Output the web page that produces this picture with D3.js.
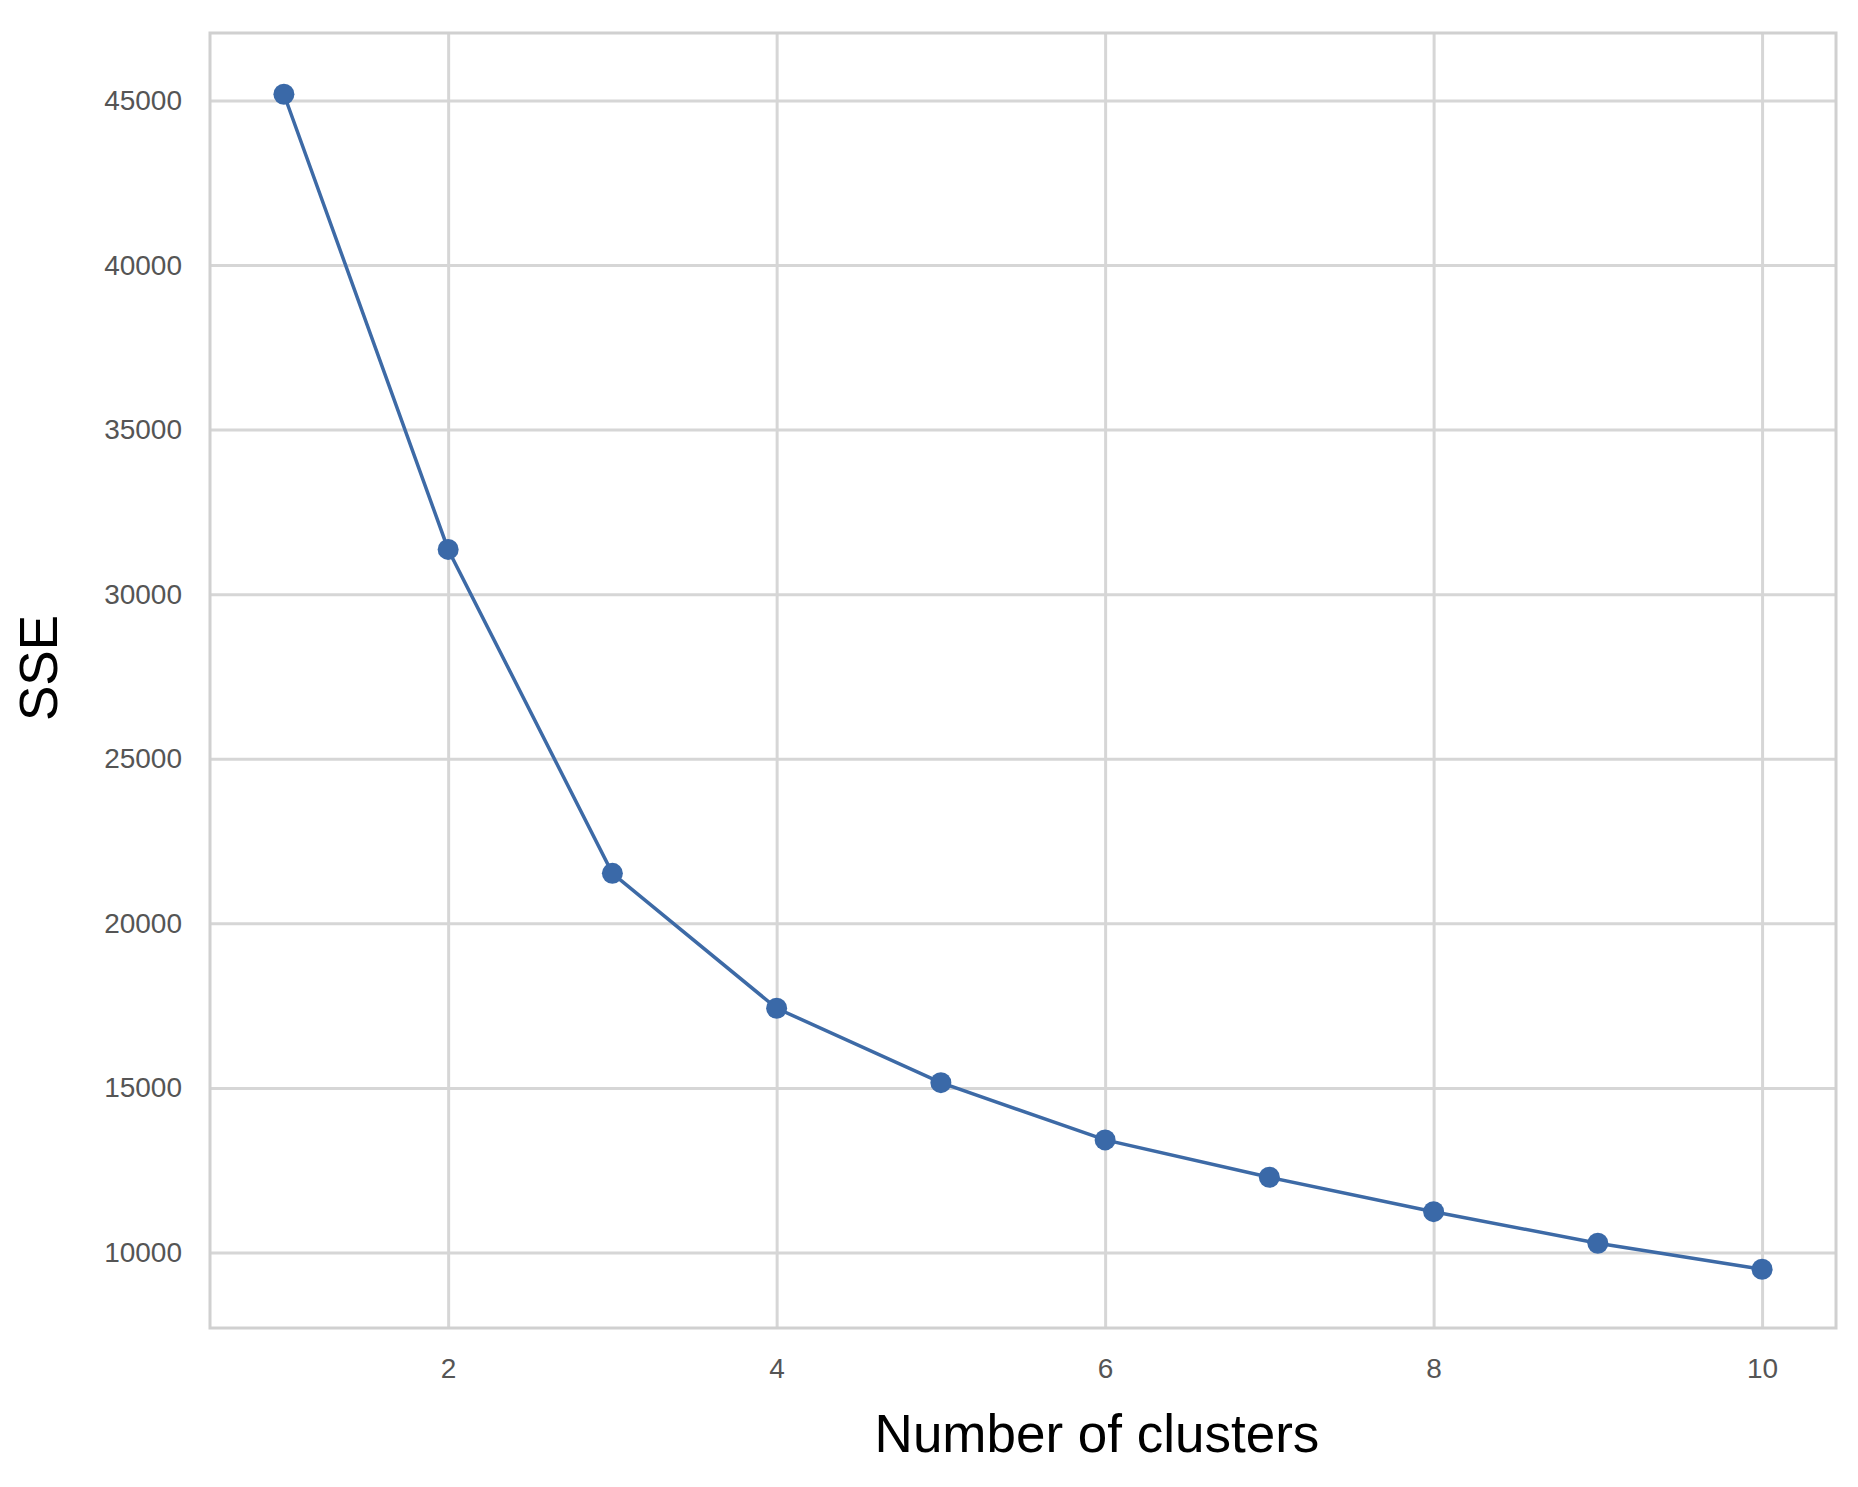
<!DOCTYPE html>
<html>
<head>
<meta charset="utf-8">
<script src="https://cdn.jsdelivr.net/npm/d3@7"></script>
<style>
  body { margin: 0; background: #fff; }
  .tick text { font-family: "Liberation Sans", Arial, sans-serif; fill: #555; }
  .label { font-family: "Liberation Sans", Arial, sans-serif; fill: #000; }
</style>
</head>
<body>
<div id="chart"></div>
<script>
// elbow curve values
const clusters = [1, 2, 3, 4, 5, 6, 7, 8, 9, 10];
const sse = [45190, 31360, 21520, 17420, 15160, 13420, 12285, 11240, 10280, 9490];
const xTicks = [2, 4, 6, 8, 10];
const yTicks = [10000, 15000, 20000, 25000, 30000, 35000, 40000, 45000];

const W = 1858, H = 1487;
const plotL = 210, plotR = 1836, plotT = 33, plotB = 1328;

const svg = d3.select('#chart')
  .append('svg')
  .attr('width', W)
  .attr('height', H);

const x = d3.scaleLinear().domain([0.55, 10.45]).range([plotL, plotR]);
const y = d3.scaleLinear().domain([7706, 47050]).range([plotB, plotT]);

// grid + tick labels
const gx = svg.append('g')
  .attr('transform', `translate(0,${plotB})`)
  .call(d3.axisBottom(x).tickValues(xTicks).tickSize(-(plotB - plotT)).tickPadding(30).tickFormat(d3.format('d')));
gx.select('.domain').remove();
gx.selectAll('.tick line').attr('stroke', '#d6d6d6').attr('stroke-width', 3);
gx.selectAll('.tick text').attr('font-size', 28);

const gy = svg.append('g')
  .attr('transform', `translate(${plotL},0)`)
  .call(d3.axisLeft(y).tickValues(yTicks).tickSize(-(plotR - plotL)).tickPadding(28).tickFormat(d3.format('d')));
gy.select('.domain').remove();
gy.selectAll('.tick line').attr('stroke', '#d6d6d6').attr('stroke-width', 3);
gy.selectAll('.tick text').attr('font-size', 28);

svg.append('rect')
  .attr('x', plotL).attr('y', plotT)
  .attr('width', plotR - plotL).attr('height', plotB - plotT)
  .attr('fill', 'none')
  .attr('stroke', '#d0d0d0')
  .attr('stroke-width', 3);

const pts = clusters.map((c, i) => [c, sse[i]]);

svg.append('path')
  .datum(pts)
  .attr('fill', 'none')
  .attr('stroke', '#3d6aa6')
  .attr('stroke-width', 3.5)
  .attr('d', d3.line().x(d => x(d[0])).y(d => y(d[1])));

svg.append('g')
  .selectAll('circle')
  .data(pts)
  .join('circle')
    .attr('cx', d => x(d[0]))
    .attr('cy', d => y(d[1]))
    .attr('r', 10.5)
    .attr('fill', '#3a69a8');

svg.append('text')
  .attr('class', 'label')
  .attr('x', 1097)
  .attr('y', 1452)
  .attr('text-anchor', 'middle')
  .attr('font-size', 53)
  .text('Number of clusters');

svg.append('text')
  .attr('class', 'label')
  .attr('transform', 'translate(57,668) rotate(-90)')
  .attr('text-anchor', 'middle')
  .attr('font-size', 53)
  .text('SSE');
</script>
</body>
</html>
